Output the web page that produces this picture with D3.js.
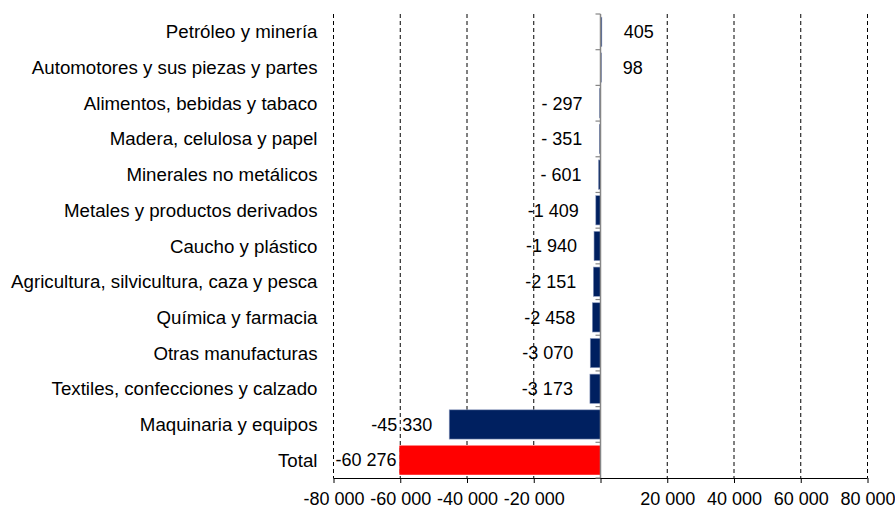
<!DOCTYPE html>
<html>
<head>
<meta charset="utf-8">
<script src="https://cdn.jsdelivr.net/npm/d3@7"></script>
<style>
  body { margin: 0; background: #fff; }
  text { font-family: "Liberation Sans", Arial, sans-serif; font-size: 18px; fill: #000; }
  text.cat { font-size: 18.7px; }
</style>
</head>
<body>
<svg id="chart"></svg>
<script>
categories = [
    'Petróleo y minería',
    'Automotores y sus piezas y partes',
    'Alimentos, bebidas y tabaco',
    'Madera, celulosa y papel',
    'Minerales no metálicos',
    'Metales y productos derivados',
    'Caucho y plástico',
    'Agricultura, silvicultura, caza y pesca',
    'Química y farmacia',
    'Otras manufacturas',
    'Textiles, confecciones y calzado',
    'Maquinaria y equipos',
    'Total'
];
values = [405, 98, -297, -351, -601, -1409, -1940, -2151, -2458, -3070, -3173, -45330, -60276];
xTicks = [-80000, -60000, -40000, -20000, 0, 20000, 40000, 60000, 80000];

data = [];
categories.forEach((c, i) => data.push({'category': c, 'value': values[i]}));

draw_chart();

function fmt(v) {
    const s = d3.format(',')(Math.abs(v)).replace(/,/g, ' ');
    if (v < 0) return Math.abs(v) < 1000 ? '- ' + s : '-' + s;
    return s;
}

function draw_chart() {
    /* dimensions */
    const margin = {top: 14, right: 27.5, bottom: 32, left: 333.5};
    const width = 895 - margin.left - margin.right;
    const height = 510 - margin.top - margin.bottom;

    const svg = d3.select('#chart')
        .attr('width', 895)
        .attr('height', 510);

    const g = svg.append('g')
        .attr('transform', 'translate(' + margin.left + ',' + margin.top + ')');

    const x = d3.scaleLinear()
        .domain([xTicks[0], xTicks[xTicks.length - 1]])
        .range([0, width]);

    const y = d3.scaleBand()
        .domain(categories)
        .range([0, height])
        .paddingInner(0.18)
        .paddingOuter(0.09);

    const yb = d3.scaleBand()
        .domain(categories)
        .range([0, height]);

    /* dashed gridlines */
    g.selectAll('.grid')
        .data(xTicks.filter(t => t !== 0))
        .enter().append('line')
        .attr('x1', d => x(d))
        .attr('x2', d => x(d))
        .attr('y1', 0)
        .attr('y2', height)
        .attr('stroke', '#000')
        .attr('stroke-width', 1)
        .attr('stroke-dasharray', '4,3');

    /* bars */
    g.selectAll('.bar')
        .data(data)
        .enter().append('rect')
        .attr('x', d => x(Math.min(0, d.value)))
        .attr('width', d => Math.max(1, Math.abs(x(d.value) - x(0))))
        .attr('y', d => y(d.category))
        .attr('height', y.bandwidth())
        .attr('fill', d => d.category === 'Total' ? '#ff0000' : '#002060')
        .attr('stroke', d => d.category === 'Total' ? 'none' : '#8e9cc0')
        .attr('stroke-width', 0.6);

    /* x axis */
    const xAxis = g.append('g')
        .attr('transform', 'translate(0,' + height + ')')
        .call(d3.axisBottom(x)
            .tickValues(xTicks)
            .tickSize(5)
            .tickFormat(d => d === 0 ? '' : fmt(d)));
    xAxis.select('.domain').attr('stroke', '#000').attr('d', 'M0,0.5H' + width);
    xAxis.selectAll('.tick line').attr('stroke', '#000');
    xAxis.selectAll('.tick text')
        .attr('font-family', null).attr('font-size', null)
        .attr('dy', null).attr('y', 27);

    /* zero (category) axis */
    const zero = g.append('g')
        .attr('transform', 'translate(' + x(0) + ',0)');
    zero.append('line')
        .attr('y1', 0).attr('y2', height)
        .attr('stroke', '#868686')
        .attr('stroke-width', 1.5);
    zero.selectAll('.ctick')
        .data(categories.concat(['_end']))
        .enter().append('line')
        .attr('x1', -5).attr('x2', 0)
        .attr('y1', (d, i) => i * yb.bandwidth())
        .attr('y2', (d, i) => i * yb.bandwidth())
        .attr('stroke', '#868686')
        .attr('stroke-width', 1.2);

    /* category labels */
    g.selectAll('.cat')
        .data(categories)
        .enter().append('text')
        .attr('class', 'cat')
        .attr('x', -16)
        .attr('y', d => yb(d) + yb.bandwidth() / 2)
        .attr('dy', '0.35em')
        .attr('text-anchor', 'end')
        .text(d => d);

    /* value labels */
    g.selectAll('.val')
        .data(data)
        .enter().append('text')
        .attr('y', d => yb(d.category) + yb.bandwidth() / 2)
        .attr('dy', '0.35em')
        .attr('text-anchor', d => d.value < 0 ? 'end' : 'start')
        .text(d => fmt(d.value))
        .attr('x', function(d) {
            const w = this.getComputedTextLength();
            if (d.value < 0) return Math.max(x(d.value) - 17, w + 2);
            return x(d.value) + 22;
        });
}
</script>
</body>
</html>
